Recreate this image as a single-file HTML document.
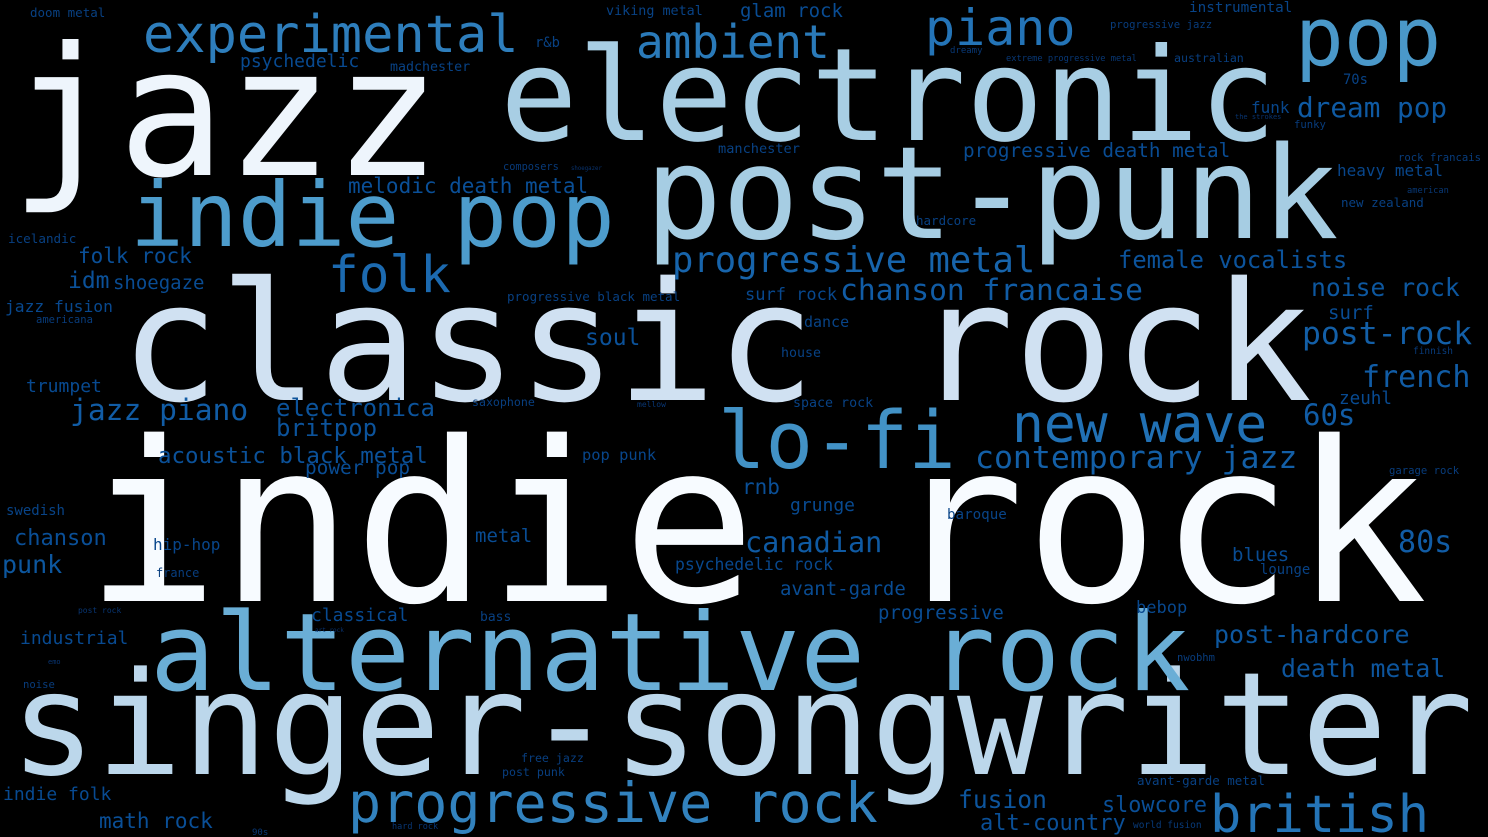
<!DOCTYPE html>
<html><head><meta charset="utf-8">
<style>
html,body{margin:0;padding:0;background:#000;}
svg{display:block;}
text{font-family:"DejaVu Sans Mono","Liberation Mono",monospace;}
</style></head>
<body>
<svg id="cloud" width="1488" height="837" viewBox="0 0 1488 837" xmlns="http://www.w3.org/2000/svg">
<rect width="1488" height="837" fill="#000"/>
</svg>
<script>
const words = [
["indie rock",85,601,223,"#f7fbff"],
["jazz",10,175,179,"#eef5fc"],
["classic rock",120,400,165,"#d0e1f2"],
["singer-songwriter",10,774,143,"#bcd7eb"],
["electronic",500,140,129,"#a8cee4"],
["post-punk",645,238,128,"#a6cde3"],
["alternative rock",150,690,108,"#6aaed6"],
["indie pop",130,246,89.5,"#4d9ccc"],
["pop",1295,65,81,"#4a98c9"],
["lo-fi",718,468,79,"#4292c6"],
["progressive rock",348,822,55,"#3282be"],
["new wave",1012,442,53,"#2171b5"],
["experimental",143,52,52,"#2e7ebc"],
["british",1210,832,52,"#2474b7"],
["folk",328,292,51,"#1c6ab0"],
["piano",925,45,50,"#2474b7"],
["ambient",636,58,46,"#2a7ab9"],
["progressive metal",672,272,35.5,"#1764ab"],
["contemporary jazz",975,468,31.5,"#135fa7"],
["post-rock",1302,344,31.4,"#135fa7"],
["french",1362,387,30,"#115ca5"],
["80s",1398,552,30,"#115ca5"],
["chanson francaise",840,300,29.6,"#115ca5"],
["jazz piano",70,420,29.6,"#115ca5"],
["60s",1303,425,29,"#115ca5"],
["canadian",745,552,28.5,"#0f5aa3"],
["dream pop",1297,117,27.7,"#0f5aa3"],
["punk",2,573,25,"#0d579f"],
["post-hardcore",1214,643,25,"#0d579f"],
["noise rock",1311,296,24.7,"#0d579f"],
["death metal",1281,677,24.8,"#0d559d"],
["fusion",958,808,24.6,"#0d559d"],
["electronica",276,416,24,"#0c539b"],
["britpop",276,436,24,"#0c539b"],
["female vocalists",1118,268,23.8,"#0c539b"],
["idm",68,288,23,"#0b5199"],
["soul",585,345,23,"#0b5199"],
["acoustic black metal",158,463,22.4,"#0b5199"],
["chanson",14,545,22,"#0a4f97"],
["alt-country",980,830,22,"#0a4f97"],
["slowcore",1102,812,21.8,"#0a4f97"],
["melodic death metal",348,193,21,"#0a4f97"],
["folk rock",78,263,21,"#0a4f97"],
["rnb",742,494,21,"#0a4f97"],
["math rock",99,828,21,"#0a4f97"],
["power pop",305,474,19.4,"#094c93"],
["progressive death metal",963,157,19.3,"#094c93"],
["shoegaze",113,289,19,"#094c93"],
["metal",475,542,19,"#094c93"],
["avant-garde",780,595,19,"#094c93"],
["progressive",878,619,19,"#094c93"],
["glam rock",740,17,19,"#094c93"],
["surf",1328,319,19,"#094c93"],
["blues",1232,561,19,"#094c93"],
["psychedelic",240,67,18,"#084a91"],
["trumpet",26,392,18,"#084a91"],
["industrial",20,644,18,"#084a91"],
["classical",311,621,18,"#084a91"],
["grunge",790,511,18,"#084a91"],
["indie folk",3,800,18,"#084a91"],
["zeuhl",1339,404,17.6,"#084a91"],
["surf rock",745,300,17,"#08488e"],
["bebop",1136,613,17,"#08488e"],
["psychedelic rock",675,570,16.4,"#08488e"],
["jazz fusion",5,312,16.3,"#08488e"],
["hip-hop",153,550,16,"#08468b"],
["heavy metal",1337,176,16,"#08468b"],
["funk",1251,113,16,"#08468b"],
["pop punk",582,460,15.4,"#08468b"],
["dance",804,327,15,"#084488"],
["instrumental",1189,12,14.3,"#084488"],
["baroque",947,519,14.2,"#084488"],
["swedish",6,515,14,"#084488"],
["lounge",1260,574,13.9,"#084285"],
["r&b",535,47,13.8,"#084285"],
["70s",1343,84,13.8,"#084285"],
["manchester",718,153,13.6,"#084285"],
["viking metal",606,15,13.4,"#084285"],
["madchester",390,71,13.3,"#084285"],
["space rock",793,407,13.3,"#084285"],
["house",781,357,13.3,"#084285"],
["bass",480,621,13,"#084082"],
["icelandic",8,243,12.6,"#084082"],
["doom metal",30,17,12.5,"#084082"],
["hardcore",916,225,12.5,"#084082"],
["new zealand",1341,207,12.5,"#084082"],
["progressive black metal",507,301,12.5,"#084082"],
["avant-garde metal",1137,785,12.5,"#084082"],
["france",156,577,12,"#083e7f"],
["australian",1174,62,11.6,"#083e7f"],
["saxophone",472,406,11.6,"#083e7f"],
["free jazz",521,762,11.6,"#083e7f"],
["post punk",502,776,11.6,"#083e7f"],
["progressive jazz",1110,28,10.6,"#083c7c"],
["funky",1294,128,10.6,"#083c7c"],
["rock francais",1398,161,10.6,"#083c7c"],
["garage rock",1389,474,10.6,"#083c7c"],
["noise",23,688,10.6,"#083c7c"],
["americana",36,323,10.5,"#083c7c"],
["nwobhm",1177,661,10.5,"#083c7c"],
["composers",503,170,10.3,"#083a79"],
["finnish",1413,354,9.5,"#083a79"],
["world fusion",1133,828,9.5,"#083a79"],
["dreamy",950,53,9,"#083876"],
["90s",252,835,9,"#083876"],
["extreme progressive metal",1006,61,8.7,"#083876"],
["american",1407,193,8.7,"#083876"],
["hard rock",392,829,8.5,"#083674"],
["post rock",78,613,8,"#083674"],
["mellow",637,407,8,"#083674"],
["the strokes",1235,119,7,"#083471"],
["emo",48,664,7,"#083471"],
["art rock",315,632,6,"#08326e"],
["shoegazer",571,170,5.7,"#08326e"]
];
const svg = document.getElementById('cloud');
const NS = "http://www.w3.org/2000/svg";
words.forEach(w => {
  const t = document.createElementNS(NS, 'text');
  t.setAttribute('x', w[1]);
  t.setAttribute('y', w[2]);
  t.setAttribute('font-size', w[3]);
  t.setAttribute('fill', w[4]);
  t.setAttribute('textLength', (w[0].length * 0.602 * w[3]).toFixed(1));
  t.setAttribute('lengthAdjust', 'spacingAndGlyphs');
  t.textContent = w[0];
  
  
  svg.appendChild(t);
});
</script>
</body></html>
